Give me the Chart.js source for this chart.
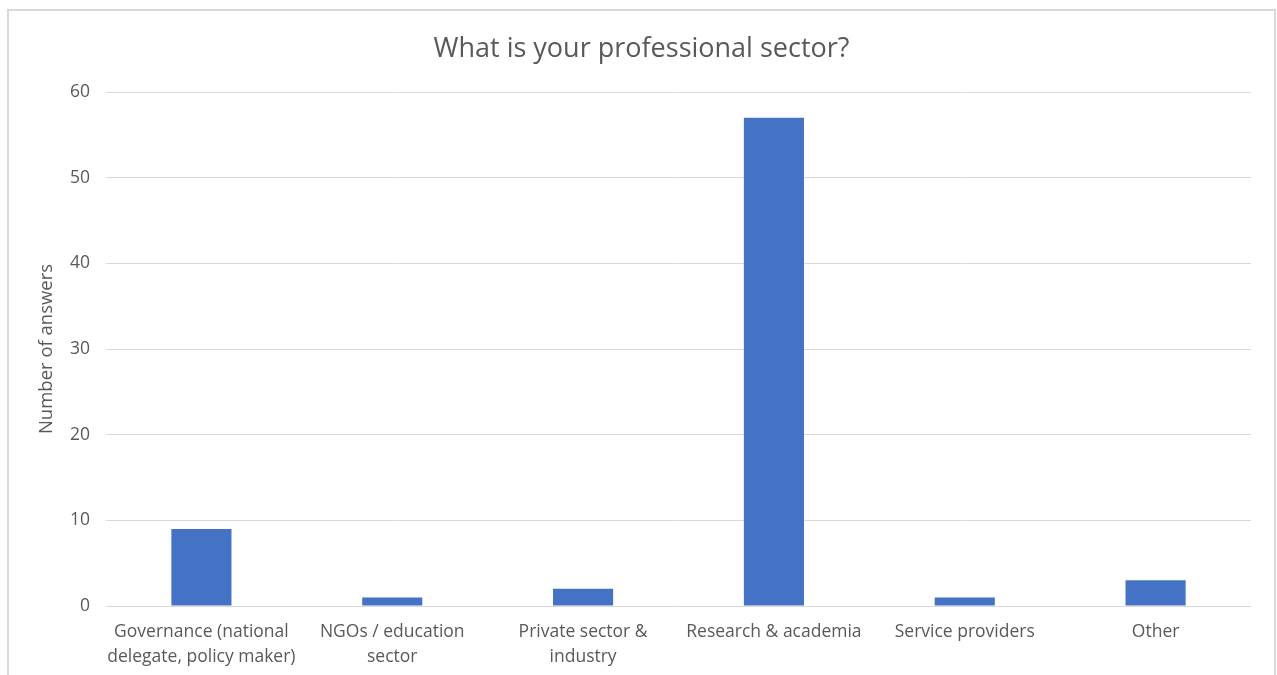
<!DOCTYPE html>
<html lang="en">
<head>
    <meta charset="UTF-8">
    <title>Professional sector</title>
    <script src="https://cdn.jsdelivr.net/npm/chart.js"></script>
    <style>
        html, body {
            margin: 0;
            padding: 0;
            background: #fff;
            overflow: hidden;
        }
        .frame {
            position: absolute;
            left: 7px;
            top: 9px;
            width: 1265px;
            height: 700px;
            border: 2px solid #d9d9d9;
            border-bottom: none;
        }
        .chart-box {
            position: absolute;
            left: 0;
            top: 0;
            width: 1277px;
            height: 675px;
        }
        .chart-title {
            position: absolute;
            left: 7px;
            width: 1269px;
            top: 31px;
            margin: 0;
            text-align: center;
            font-family: 'Open Sans', 'Noto Sans', sans-serif;
            font-size: 27px;
            font-weight: normal;
            line-height: 32px;
            color: #595959;
            z-index: 1;
        }
    </style>
</head>
<body>
    <div class="frame"></div>
    <h1 class="chart-title">What is your professional sector?</h1>
    <div class="chart-box">
        <canvas id="sectorChart"></canvas>
    </div>
    <script>
        const sectors = [
            ["Governance (national", "delegate, policy maker)"],
            ["NGOs / education", "sector"],
            ["Private sector &", "industry"],
            "Research & academia",
            "Service providers",
            "Other"
        ];
        const answers = [9, 1, 2, 57, 1, 3];
        const yTicks = [0, 10, 20, 30, 40, 50, 60];

        const textColor = "#595959";
        const fontFamily = "'Open Sans', 'Noto Sans', sans-serif";

        new Chart(document.getElementById("sectorChart"), {
            type: "bar",
            data: {
                labels: sectors,
                datasets: [{
                    label: "Number of answers",
                    data: answers,
                    backgroundColor: "#4472C4",
                    categoryPercentage: 1,
                    barPercentage: 0.315
                }]
            },
            options: {
                responsive: true,
                maintainAspectRatio: false,
                animation: false,
                layout: {
                    // title sits above in the page, so reserve its room here
                    padding: { top: 92, right: 26, bottom: 0, left: 0 }
                },
                plugins: {
                    legend: { display: false },
                    tooltip: { enabled: false },
                    title: { display: false }
                },
                scales: {
                    x: {
                        grid: { display: false, drawTicks: false },
                        border: { display: false },
                        ticks: {
                            color: textColor,
                            font: { family: fontFamily, size: 17.5, lineHeight: 1.4 },
                            padding: 14,
                            maxRotation: 0,
                            autoSkip: false
                        },
                        afterFit(scale) { scale.height = 69; }
                    },
                    y: {
                        min: 0,
                        max: 60,
                        afterBuildTicks(scale) {
                            scale.ticks = yTicks.map(v => ({ value: v }));
                        },
                        grid: { color: "#d9d9d9", drawTicks: false },
                        border: { display: false },
                        ticks: {
                            color: textColor,
                            font: { family: fontFamily, size: 17.5 },
                            padding: 16
                        },
                        title: {
                            display: true,
                            text: "Number of answers",
                            color: textColor,
                            font: { family: fontFamily, size: 18.5 },
                            padding: { top: 36, bottom: 0 }
                        },
                        afterFit(scale) { scale.width = 106; }
                    }
                }
            }
        });
    </script>
</body>
</html>
